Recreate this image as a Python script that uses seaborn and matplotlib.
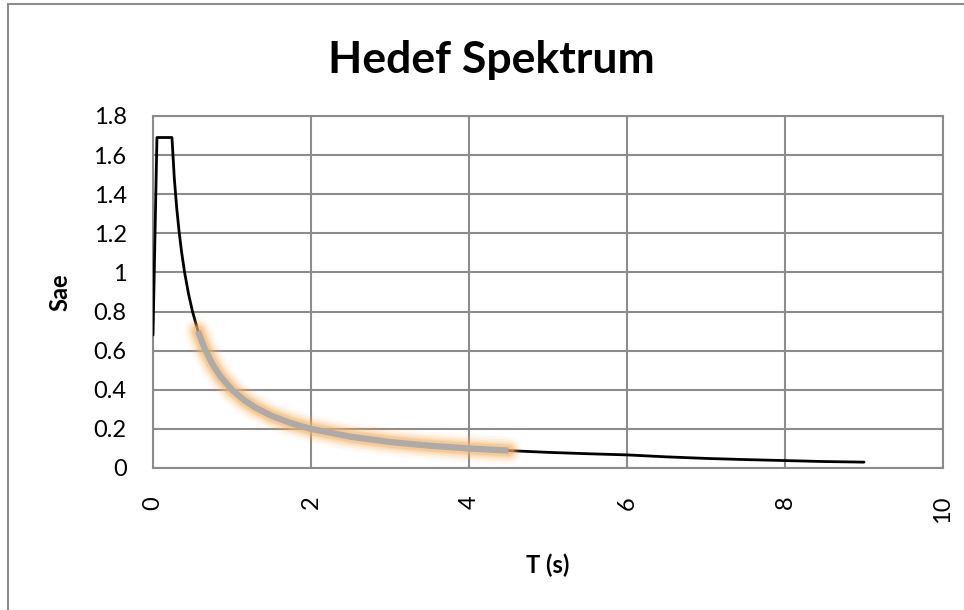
import matplotlib
matplotlib.use("Agg")
import matplotlib.pyplot as plt
import seaborn as sns
import pandas as pd
from matplotlib.patches import Rectangle

# Data (T in s, Sae)
T_vals = [0.0, 0.05, 0.24, 0.27, 0.30, 0.33, 0.36, 0.40, 0.45, 0.50, 0.57, 0.65,
          0.75, 0.85, 1.00, 1.15, 1.30, 1.50, 1.75, 2.00, 2.50, 3.00, 3.50, 4.00,
          4.50, 5.00, 5.50, 6.00, 6.50, 7.00, 7.50, 8.00, 8.50, 9.00]
Sae_vals = [0.68, 1.69, 1.69, 1.48, 1.33, 1.21, 1.11, 1.00, 0.89, 0.80, 0.70, 0.615,
            0.533, 0.47, 0.40, 0.348, 0.308, 0.267, 0.229, 0.200, 0.160, 0.133, 0.114,
            0.100, 0.089, 0.080, 0.073, 0.067, 0.057, 0.049, 0.043, 0.038, 0.033, 0.030]
# highlighted stretch of the curve
hl_start, hl_end = 0.57, 4.50

x_ticks = [0, 2, 4, 6, 8, 10]
y_ticks = [0, 0.2, 0.4, 0.6, 0.8, 1.0, 1.2, 1.4, 1.6, 1.8]
y_tick_labels = ["0", "0.2", "0.4", "0.6", "0.8", "1", "1.2", "1.4", "1.6", "1.8"]

title = "Hedef Spektrum"
xlabel = "T (s)"
ylabel = "Sae"

sns.set_theme(style="white")
plt.rcParams["font.family"] = ["Lato", "DejaVu Sans"]
plt.rcParams["text.color"] = "black"
plt.rcParams["axes.labelcolor"] = "black"

df = pd.DataFrame({"T": T_vals, "Sae": Sae_vals})
hl = df[(df["T"] >= hl_start) & (df["T"] <= hl_end)]

fig = plt.figure(figsize=(9.64, 6.10), dpi=100)
ax = fig.add_axes([153 / 964, 1 - 468 / 610, (943 - 153) / 964, (468 - 116) / 610])

sns.lineplot(data=df, x="T", y="Sae", ax=ax, color="black", linewidth=2.0,
             estimator=None, sort=False, zorder=3)

# orange glow around the highlighted stretch
for lw, a in [(20, 0.07), (16, 0.12), (13, 0.18), (10, 0.28), (8, 0.35)]:
    ax.plot(hl["T"], hl["Sae"], color="#F9B25E", linewidth=lw, alpha=a,
            solid_capstyle="round", solid_joinstyle="round", zorder=4)
ax.plot(hl["T"], hl["Sae"], color="#ABABAB", linewidth=4.5,
        solid_capstyle="butt", solid_joinstyle="round", zorder=5)

ax.set_xlim(0, 10)
ax.set_ylim(0, 1.8)
ax.set_xticks(x_ticks)
ax.set_xticklabels([str(t) for t in x_ticks], rotation=90)
ax.set_yticks(y_ticks)
ax.set_yticklabels(y_tick_labels)
ax.tick_params(axis="both", length=0, labelsize=17, colors="black")
ax.tick_params(axis="y", pad=19)
ax.tick_params(axis="x", pad=20)

ax.grid(True, color="#8C8C8C", linewidth=1.5)
ax.set_axisbelow(True)
for s in ax.spines.values():
    s.set_color("#8C8C8C")
    s.set_linewidth(1.5)

ax.set_xlabel(xlabel, fontsize=17, fontweight="bold", labelpad=22)
ax.set_ylabel(ylabel, fontsize=17, fontweight="bold", labelpad=16)
fig.suptitle(title, x=491 / 964, y=1 - 60 / 610, va="center",
             fontsize=32, fontweight="bold", color="black")

# chart-area border
fig.patches.append(Rectangle((8 / 964, -0.05), 1.1, 1 - 4 / 610 + 0.05,
                             transform=fig.transFigure, fill=False,
                             edgecolor="#8C8C8C", linewidth=1.5))

fig.savefig("out.png", dpi=100)
